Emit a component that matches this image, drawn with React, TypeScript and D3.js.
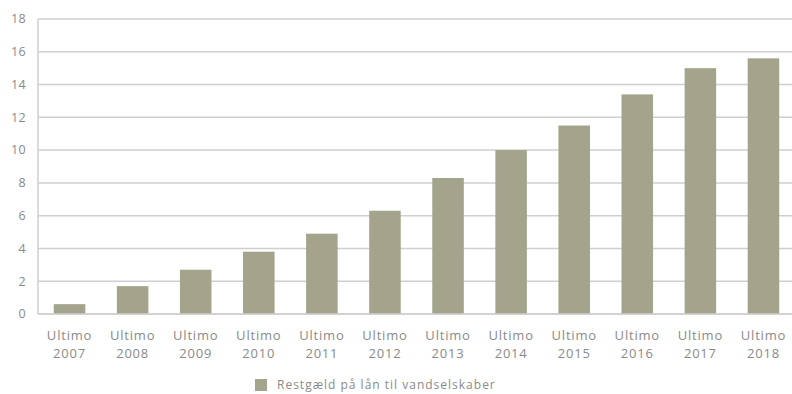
import React from "react";
import * as d3 from "d3";

const categories = ["2007", "2008", "2009", "2010", "2011", "2012", "2013", "2014", "2015", "2016", "2017", "2018"];
const values = [0.6, 1.7, 2.7, 3.8, 4.9, 6.3, 8.3, 10.0, 11.5, 13.4, 15.0, 15.6];
const yTicks = [0, 2, 4, 6, 8, 10, 12, 14, 16, 18];
const seriesName = "Restgæld på lån til vandselskaber";

export default function App() {
  const W = 792, H = 394;
  const x = d3.scaleBand<string>().domain(categories).range([38, 795]).paddingInner(0.5).paddingOuter(0.25);
  const y = d3.scaleLinear().domain([0, 18]).range([314, 19]);
  const font = "'Open Sans', sans-serif";
  const textColor = "#8a8a8a";
  const barColor = "#a3a48b";
  const gridColor = "#cfcfcf";
  return (
    <svg width={W} height={H} style={{ position: "absolute", left: 0, top: 0, background: "#fff" }} fontFamily={font}>
      {yTicks.map((t) => (
        <g key={t}>
          <line x1={38} x2={W} y1={y(t)} y2={y(t)} stroke={gridColor} strokeWidth={1.5} />
          <text x={26} y={y(t)} dy="0.35em" textAnchor="end" fontSize={12.5} fill={textColor} letterSpacing={0.3}>{t}</text>
        </g>
      ))}
      <line x1={38} x2={38} y1={y(18)} y2={y(0)} stroke={gridColor} strokeWidth={1.5} />
      {categories.map((c, i) => (
        <rect key={c} x={x(c)} y={y(values[i])} width={x.bandwidth()} height={y(0) - y(values[i])} fill={barColor} />
      ))}
      <line x1={38} x2={W} y1={y(0)} y2={y(0)} stroke={gridColor} strokeWidth={1.5} />
      {categories.map((c) => {
        const cx = (x(c) as number) + x.bandwidth() / 2;
        return (
          <g key={"l" + c}>
            <text x={cx} y={340} textAnchor="middle" fontSize={13} fill={textColor} letterSpacing={0.8}>Ultimo</text>
            <text x={cx} y={358} textAnchor="middle" fontSize={13} fill={textColor} letterSpacing={0.8}>{c}</text>
          </g>
        );
      })}
      <rect x={255} y={379} width={12} height={12} fill={barColor} />
      <text x={277} y={389} fontSize={12} fill={textColor} letterSpacing={1}>{seriesName}</text>
    </svg>
  );
}
